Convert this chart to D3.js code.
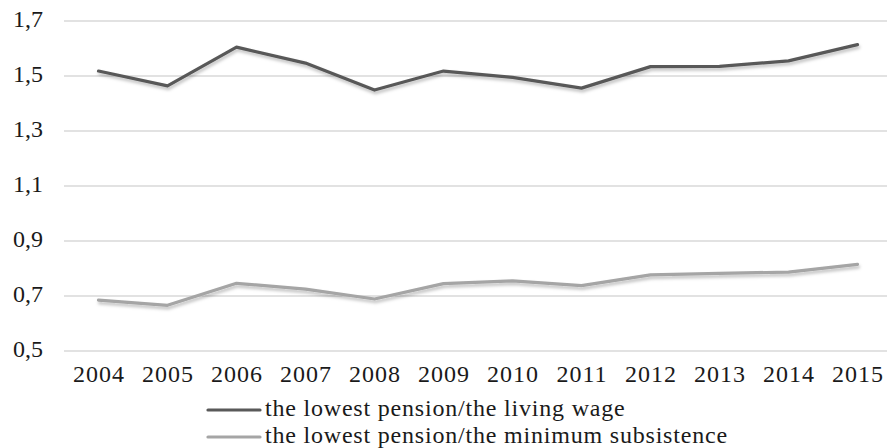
<!DOCTYPE html>
<html>
<head>
<meta charset="utf-8">
<script src="https://cdn.jsdelivr.net/npm/d3@7"></script>
<style>
body { margin: 0; background: #fff; }
</style>
</head>
<body>
<div class="chart"></div>
<script>
var width = 887
var height = 448
var serif = '"Liberation Serif"'

var years = ['2004', '2005', '2006', '2007', '2008', '2009', '2010', '2011', '2012', '2013', '2014', '2015']
var livingWage = [1.518, 1.464, 1.605, 1.547, 1.449, 1.518, 1.495, 1.456, 1.534, 1.535, 1.555, 1.614]
var minSubsistence = [0.685, 0.666, 0.746, 0.725, 0.689, 0.745, 0.755, 0.738, 0.777, 0.782, 0.787, 0.815]
var yTicks = [0.5, 0.7, 0.9, 1.1, 1.3, 1.5, 1.7]
var seriesNames = ['the lowest pension/the living wage', 'the lowest pension/the minimum subsistence']
var seriesColors = ['#595959', '#a5a5a5']

var svg = d3.select('.chart').append('svg')
    .attr('width', width)
    .attr('height', height)

// soft drop shadow like the office chart
var defs = svg.append('defs')
var f = defs.append('filter').attr('id', 'shadow').attr('x', '-5%').attr('y', '-50%').attr('width', '110%').attr('height', '200%')
f.append('feDropShadow').attr('dx', 1).attr('dy', 2.5).attr('stdDeviation', 1.5).attr('flood-color', '#000').attr('flood-opacity', 0.25)

var x = d3.scalePoint().domain(years).range([64, 892]).padding(0.5)
var y = d3.scaleLinear().domain([0.5, 1.7]).range([351, 21])

// gridlines
svg.selectAll('.grid')
    .data(yTicks)
    .enter()
    .append('line')
    .attr('x1', 64)
    .attr('x2', width)
    .attr('y1', function (d) { return y(d) })
    .attr('y2', function (d) { return y(d) })
    .attr('stroke', '#d9d9d9')
    .attr('stroke-width', 1.5)

// y labels
svg.selectAll('.ylab')
    .data(yTicks)
    .enter()
    .append('text')
    .attr('x', 43)
    .attr('y', function (d) { return y(d) + 6 })
    .attr('text-anchor', 'end')
    .attr('fill', '#1a1a1a')
    .style('font-family', serif)
    .style('font-size', '24px')
    .text(function (d) { return d3.format('.1f')(d).replace('.', ',') })

// x labels
svg.selectAll('.xlab')
    .data(years)
    .enter()
    .append('text')
    .attr('x', function (d) { return x(d) + 0.5 })
    .attr('y', 382)
    .attr('text-anchor', 'middle')
    .attr('fill', '#1a1a1a')
    .style('font-family', serif)
    .style('font-size', '24px')
    .style('letter-spacing', '1px')
    .text(function (d) { return d })

var line = d3.line()
    .x(function (d, i) { return x(years[i]) })
    .y(function (d) { return y(d) })

;[livingWage, minSubsistence].forEach(function (s, i) {
    svg.append('path')
        .datum(s)
        .attr('d', line)
        .attr('fill', 'none')
        .attr('stroke', seriesColors[i])
        .attr('stroke-width', 3.2)
        .attr('stroke-linecap', 'round')
        .attr('stroke-linejoin', 'round')
        .attr('filter', 'url(#shadow)')
})

// legend
var legend = svg.selectAll('.legend')
    .data(seriesNames)
    .enter()
    .append('g')
    .attr('transform', function (d, i) { return 'translate(208,' + (410 + i * 27) + ')' })

legend.append('line')
    .attr('x1', 0)
    .attr('x2', 52)
    .attr('stroke', function (d, i) { return seriesColors[i] })
    .attr('stroke-width', 3.2)
    .attr('stroke-linecap', 'round')

legend.append('text')
    .attr('x', 57)
    .attr('y', 6)
    .attr('fill', '#1a1a1a')
    .style('font-family', serif)
    .style('font-size', '24px')
    .style('letter-spacing', '0.8px')
    .text(function (d) { return d })
</script>
</body>
</html>
